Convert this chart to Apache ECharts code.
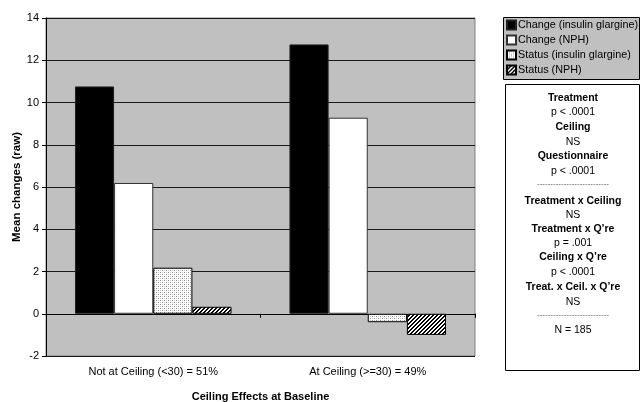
<!DOCTYPE html>
<html><head><meta charset="utf-8">
<script src="https://cdn.jsdelivr.net/npm/echarts@6/dist/echarts.min.js"></script>
<style>html,body{margin:0;padding:0;background:#fff}#c{width:643px;height:402px}</style>
</head><body><div id="c"></div>
<script>
var categories = ['Not at Ceiling (<30) = 51%', 'At Ceiling (>=30) = 49%'];
var seriesNames = ['Change (insulin glargine)', 'Change (NPH)', 'Status (insulin glargine)', 'Status (NPH)'];
var changeGlargine = [10.76, 12.75];
var changeNPH = [6.19, 9.28];
var statusGlargine = [2.18, -0.4];
var statusNPH = [0.33, -1.0];
var yTicks = { min: -2, max: 14, interval: 2 };
var statsLines = [
  ['Treatment', true], ['p < .0001', false], ['Ceiling', true], ['NS', false],
  ['Questionnaire', true], ['p < .0001', false], ['---------------------------', false],
  ['Treatment x Ceiling', true], ['NS', false], ['Treatment x Q\u2019re', true], ['p = .001', false],
  ['Ceiling x Q\u2019re', true], ['p < .0001', false], ['Treat. x Ceil. x Q\u2019re', true], ['NS', false],
  ['---------------------------', false], ['N = 185', false]
];

function dotPattern() {
  var c = document.createElement('canvas'); c.width = 4; c.height = 4;
  var g = c.getContext('2d');
  g.fillStyle = '#ffffff'; g.fillRect(0, 0, 4, 4);
  g.fillStyle = '#8a8a8a';
  g.fillRect(0, 0, 1, 1); g.fillRect(2, 2, 1, 1);
  g.fillStyle = '#c8c8c8';
  g.fillRect(2, 0, 1, 1); g.fillRect(0, 2, 1, 1);
  return c;
}
function hatchPattern() {
  var c = document.createElement('canvas'); c.width = 4; c.height = 4;
  var g = c.getContext('2d');
  g.fillStyle = '#ffffff'; g.fillRect(0, 0, 4, 4);
  g.fillStyle = '#000000';
  for (var i = 0; i < 4; i++) {
    g.fillRect((3 - i + 4) % 4, i, 1, 1);
    g.fillRect((4 - i + 4) % 4, i, 1, 1);
  }
  return c;
}

var FONT = '"Liberation Sans", Arial, sans-serif';
var chart = echarts.init(document.getElementById('c'), null, { renderer: 'canvas' });

var graphics = [{
  type: 'rect', shape: { x: 503.5, y: 17.5, width: 136, height: 62 },
  style: { fill: '#c0c0c0', stroke: '#000000', lineWidth: 1 }, z: 1
}, {
  type: 'rect', shape: { x: 505.5, y: 84.5, width: 134, height: 286 },
  style: { fill: '#ffffff', stroke: '#000000', lineWidth: 1 }, z: 10
}];
statsLines.forEach(function (l, i) {
  var y = [98, 112, 127, 142, 156, 171, 184, 201, 215, 229, 243, 257, 272, 287, 302, 315, 330][i];
  var dash = l[0].charAt(0) === '-';
  graphics.push({
    type: 'text', x: 573, y: y, z: 11,
    style: {
      text: l[0], fill: dash ? '#555' : '#000', align: 'center', verticalAlign: 'middle',
      font: (l[1] ? 'bold ' : '') + (dash ? '8px ' : '10.5px ') + FONT
    }
  });
});

function barSeries(name, data, color, border) {
  return {
    name: name, type: 'bar', data: data, xAxisIndex: 0,
    barGap: '0%', barCategoryGap: '27%',
    itemStyle: { color: color, borderColor: border, borderWidth: 1 },
    emphasis: { disabled: true }
  };
}

chart.setOption({
  animation: false,
  backgroundColor: '#ffffff',
  textStyle: { fontFamily: FONT },
  grid: { left: 46, top: 18, width: 429, height: 338, containLabel: false, outerBoundsMode: 'none', show: true, backgroundColor: '#c0c0c0', borderColor: '#808080', borderWidth: 1 },
  legend: {
    orient: 'vertical', left: 503, top: 17, z: 5,
    backgroundColor: 'transparent', borderWidth: 0,
    padding: [2, 2, 2, 3], itemGap: 3, itemWidth: 9, itemHeight: 9,
    icon: 'rect',
    textStyle: { fontSize: 10.8, lineHeight: 12, color: '#000', fontFamily: FONT, padding: [0, 0, 0, -3] },
    data: seriesNames
  },
  xAxis: [{
    type: 'category', data: categories, position: 'bottom',
    axisLine: { onZero: true, lineStyle: { color: '#000', width: 1 } },
    axisTick: { show: true, length: 4, lineStyle: { color: '#000' } },
    axisLabel: { show: false }, splitLine: { show: false }
  }, {
    type: 'category', data: categories, position: 'bottom',
    axisLine: { show: false, onZero: false }, axisTick: { show: false },
    axisLabel: { show: true, margin: 10, fontSize: 11, color: '#000', fontFamily: FONT },
    name: 'Ceiling Effects at Baseline', nameLocation: 'middle', nameGap: 35,
    nameTextStyle: { fontWeight: 'bold', fontSize: 11, color: '#000', fontFamily: FONT }
  }],
  yAxis: {
    type: 'value', min: yTicks.min, max: yTicks.max, interval: yTicks.interval,
    axisLine: { show: true, lineStyle: { color: '#000' } },
    axisTick: { show: true, inside: false, length: 4, lineStyle: { color: '#000' } },
    axisLabel: { margin: 7, fontSize: 11, color: '#000', fontFamily: FONT },
    splitLine: { show: true, lineStyle: { color: '#1a1a1a', width: 1 } },
    name: 'Mean changes (raw)', nameLocation: 'middle', nameGap: 23, nameMoveOverlap: false,
    nameTextStyle: { fontWeight: 'bold', fontSize: 11.5, color: '#000', fontFamily: FONT }
  },
  series: [
    barSeries(seriesNames[0], changeGlargine, '#000000', '#222'),
    barSeries(seriesNames[1], changeNPH, '#ffffff', '#333'),
    barSeries(seriesNames[2], statusGlargine, { image: dotPattern(), repeat: 'repeat' }, '#000'),
    barSeries(seriesNames[3], statusNPH, { image: hatchPattern(), repeat: 'repeat' }, '#000')
  ],
  graphic: graphics
});
</script></body></html>
